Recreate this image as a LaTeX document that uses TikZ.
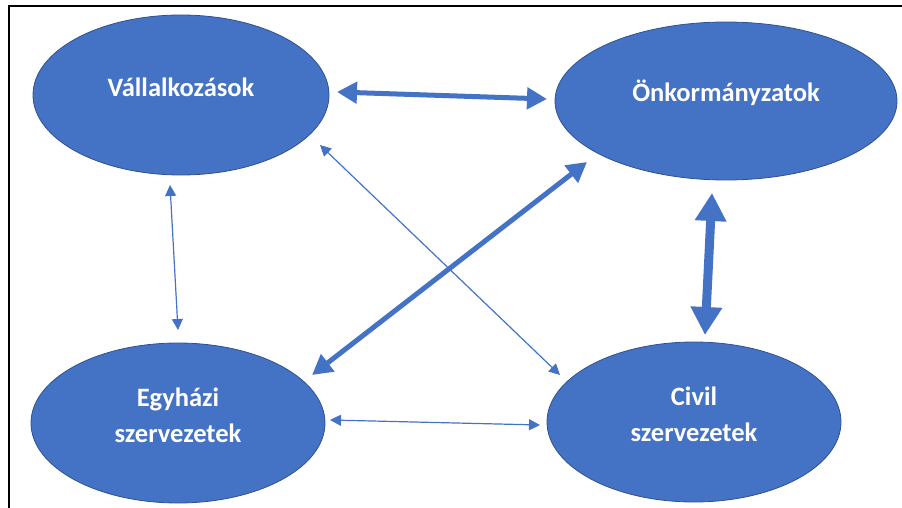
\documentclass[tikz,border=0pt]{standalone}
\usepackage{fontspec}
\setmainfont{Carlito}
\usetikzlibrary{arrows.meta}
\usetikzlibrary{shapes.geometric}
\usetikzlibrary{calc}
\definecolor{orgBlue}{HTML}{4472C4}
\definecolor{orgEdge}{HTML}{2F528F}

\begin{document}
\begin{tikzpicture}[x = 1pt, y = -1pt]
	\tikzstyle{orgStyle} = [shape = ellipse, fill = orgBlue, draw = orgEdge, line width = 0.8pt, inner sep = 0pt, minimum width = 294pt, minimum height = 160pt]
	\tikzstyle{nameStyle} = [text = white, font = \bfseries\fontsize{26.5}{36}\selectfont, align = center, yshift = 8pt]
	\tikzstyle{thinLink} = [draw = orgBlue, line width = 1.2pt, {Triangle[length = 11pt, width = 11pt]}-{Triangle[length = 11pt, width = 11pt]}]
	\tikzstyle{thickLink} = [draw = orgBlue, line width = 5pt, {Triangle[length = 20pt, width = 21pt]}-{Triangle[length = 20pt, width = 21pt]}]
	\tikzstyle{heavyLink} = [draw = orgBlue, line width = 9pt, {Triangle[length = 28pt, width = 30pt]}-{Triangle[length = 28pt, width = 30pt]}]
	\useasboundingbox (0,0) rectangle (902,508);
	\draw[line width = 2pt] (8.5,508) -- (8.5,6) -- (902,6);
	\node[orgStyle, minimum width = 296pt, label = {[nameStyle]center:V\'allalkoz\'asok}] (vall) at (181,95) {};
	\node[orgStyle, minimum width = 342pt, minimum height = 158pt, label = {[nameStyle]center:\"Onkorm\'anyzatok}] (onk) at (726,101) {};
	\node[orgStyle, label = {[nameStyle]center:{Egyh\'azi\\szervezetek}}] (egy) at (178,423) {};
	\node[orgStyle, label = {[nameStyle]center:{Civil\\szervezetek}}] (civ) at (694,422) {};
	\draw[thickLink] ($(vall.center)+(156,-3)$) -- ($(onk.center)+(-179,-2)$);
	\draw[thinLink] ($(vall.center)+(-11,90)$) -- ($(egy.center)+(0,-93)$);
	\draw[thinLink] ($(vall.center)+(139,50)$) -- ($(civ.center)+(-134,-47)$);
	\draw[thickLink] ($(onk.center)+(-139,61)$) -- ($(egy.center)+(134,-48)$);
	\draw[heavyLink] ($(onk.center)+(-14,92)$) -- ($(civ.center)+(11,-87)$);
	\draw[thinLink] ($(egy.center)+(152,-3)$) -- ($(civ.center)+(-154,3)$);
\end{tikzpicture}
\end{document}
